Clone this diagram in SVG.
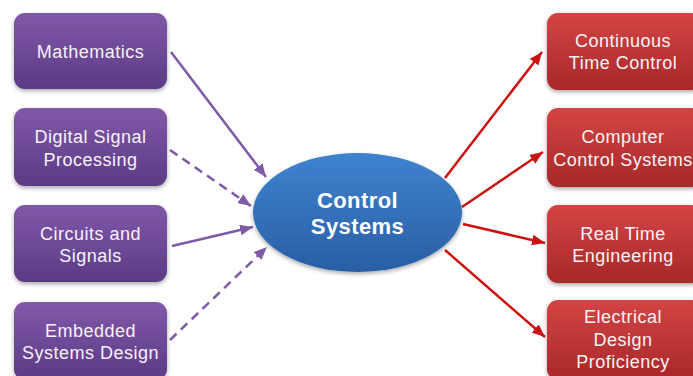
<svg xmlns="http://www.w3.org/2000/svg" width="693" height="376" viewBox="0 0 693 376">
  <defs>
    <linearGradient id="gp" x1="0" y1="0" x2="0" y2="1">
      <stop offset="0" stop-color="#8059a8"/>
      <stop offset="1" stop-color="#5c3a85"/>
    </linearGradient>
    <linearGradient id="gr" x1="0" y1="0" x2="0" y2="1">
      <stop offset="0" stop-color="#d44444"/>
      <stop offset="1" stop-color="#a72828"/>
    </linearGradient>
    <linearGradient id="gb" x1="0" y1="0" x2="0" y2="1">
      <stop offset="0" stop-color="#3f83cf"/>
      <stop offset="1" stop-color="#295ea5"/>
    </linearGradient>
    <filter id="sh" x="-10%" y="-10%" width="120%" height="130%">
      <feDropShadow dx="0" dy="2" stdDeviation="2" flood-color="#000" flood-opacity="0.35"/>
    </filter>
    <marker id="ap" viewBox="0 0 12 10" refX="12" refY="5" markerWidth="13" markerHeight="11" markerUnits="userSpaceOnUse" orient="auto">
      <path d="M0,0 L12,5 L0,10 Z" fill="#7d5ba6"/>
    </marker>
    <marker id="ar" viewBox="0 0 12 10" refX="12" refY="5" markerWidth="13" markerHeight="11" markerUnits="userSpaceOnUse" orient="auto">
      <path d="M0,0 L12,5 L0,10 Z" fill="#cc1111"/>
    </marker>
  </defs>
  <style>
    .bp { fill: url(#gp); filter: url(#sh); }
    .br { fill: url(#gr); filter: url(#sh); }
    .t { font-family: "Liberation Sans", Arial, sans-serif; font-size: 18px; letter-spacing: 0.5px; fill: #f6f2f8; text-anchor: middle; }
    .tc { font-family: "Liberation Sans", Arial, sans-serif; font-size: 22px; font-weight: bold; letter-spacing: 0.4px; fill: #ffffff; text-anchor: middle; }
    .lp { stroke: #7d5ba6; stroke-width: 2.5; fill: none; marker-end: url(#ap); }
    .lr { stroke: #cc1111; stroke-width: 2.5; fill: none; marker-end: url(#ar); }
    .d { stroke-dasharray: 9 6; }
  </style>

  <g id="connectors">
    <path class="lp" d="M171,52 L266,177"/>
    <path class="lp d" d="M170,150 L251,206"/>
    <path class="lp" d="M172,246 L253,227"/>
    <path class="lp d" d="M170,340 L267,247"/>
    <path class="lr" d="M445,178 L542,52"/>
    <path class="lr" d="M462,207 L543,152"/>
    <path class="lr" d="M463,224 L545,243"/>
    <path class="lr" d="M445,250 L545,337"/>
  </g>

  <g id="mathematics">
    <rect class="bp" x="14" y="13" width="153" height="76" rx="11"/>
    <text class="t" x="90.5" y="58">Mathematics</text>
  </g>
  <g id="dsp">
    <rect class="bp" x="14" y="108" width="153" height="78" rx="11"/>
    <text class="t" x="90.5" y="143">Digital Signal</text>
    <text class="t" x="90.5" y="166">Processing</text>
  </g>
  <g id="circuits">
    <rect class="bp" x="14" y="205" width="153" height="77" rx="11"/>
    <text class="t" x="90.5" y="240">Circuits and</text>
    <text class="t" x="90.5" y="262">Signals</text>
  </g>
  <g id="embedded">
    <rect class="bp" x="14" y="302" width="153" height="78" rx="11"/>
    <text class="t" x="90.5" y="337">Embedded</text>
    <text class="t" x="90.5" y="359">Systems Design</text>
  </g>

  <g id="control-systems">
    <ellipse cx="357.5" cy="212.5" rx="104.5" ry="59.5" fill="url(#gb)" filter="url(#sh)"/>
    <text class="tc" x="357.5" y="208">Control</text>
    <text class="tc" x="357.5" y="234">Systems</text>
  </g>

  <g id="continuous">
    <rect class="br" x="547" y="13" width="155" height="77" rx="11"/>
    <text class="t" x="623" y="47">Continuous</text>
    <text class="t" x="623" y="69">Time Control</text>
  </g>
  <g id="computer">
    <rect class="br" x="547" y="108" width="155" height="79" rx="11"/>
    <text class="t" x="623" y="143">Computer</text>
    <text class="t" x="623" y="166">Control Systems</text>
  </g>
  <g id="realtime">
    <rect class="br" x="547" y="205" width="155" height="78" rx="11"/>
    <text class="t" x="623" y="240">Real Time</text>
    <text class="t" x="623" y="262">Engineering</text>
  </g>
  <g id="electrical">
    <rect class="br" x="547" y="300" width="155" height="80" rx="11"/>
    <text class="t" x="623" y="323">Electrical</text>
    <text class="t" x="623" y="346">Design</text>
    <text class="t" x="623" y="368">Proficiency</text>
  </g>
</svg>
